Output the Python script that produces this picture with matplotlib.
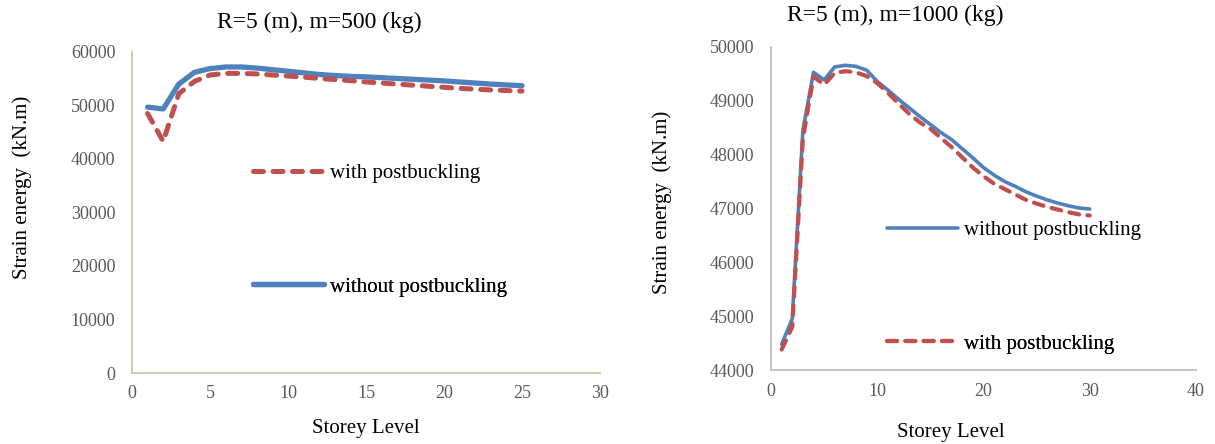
import matplotlib
matplotlib.use("Agg")
import matplotlib.pyplot as plt
from matplotlib.lines import Line2D

plt.rcParams['font.family'] = ['Liberation Serif', 'DejaVu Serif']

# Datos: R=5 (m), m=500 (kg)
pisos_500 = list(range(1, 26))
sin_pb_500 = [49700, 49350, 54000, 56200, 56900, 57200, 57200, 57000, 56700, 56400,
              56100, 55800, 55600, 55450, 55350, 55200, 55050, 54900, 54750, 54600,
              54400, 54200, 54000, 53850, 53700]
con_pb_500 = [48500, 43300, 52200, 54500, 55700, 56000, 56000, 55900, 55700, 55500,
              55300, 55050, 54850, 54650, 54400, 54200, 54000, 53800, 53600, 53400,
              53200, 53050, 52900, 52800, 52700]

# Datos: R=5 (m), m=1000 (kg)
pisos_1000 = list(range(1, 31))
sin_pb_1000 = [44480, 44950, 48450, 49530, 49390, 49630, 49660, 49640, 49570, 49360,
               49200, 49030, 48870, 48710, 48560, 48410, 48280, 48110, 47940, 47760,
               47620, 47500, 47410, 47310, 47230, 47160, 47100, 47050, 47010, 46990]
con_pb_1000 = [44380, 44800, 48300, 49450, 49300, 49520, 49550, 49530, 49460, 49330,
               49150, 48950, 48760, 48600, 48480, 48310, 48140, 47950, 47760, 47600,
               47460, 47360, 47260, 47160, 47090, 47030, 46980, 46930, 46890, 46870]

azul = '#4F81BD'
rojo = '#C0504D'
gris_txt = '#595959'

W, H = 1215, 444
fig = plt.figure(figsize=(W / 100, H / 100), dpi=100)

ax1 = fig.add_axes([132 / W, 1 - 373 / H, 468 / W, 321 / H])
ax2 = fig.add_axes([771 / W, 1 - 370 / H, 425 / W, 323 / H])


def estilo(ax, color_eje):
    for s in ['top', 'right']:
        ax.spines[s].set_visible(False)
    for s in ['left', 'bottom']:
        ax.spines[s].set_color(color_eje)
        ax.spines[s].set_linewidth(1.3)
    ax.tick_params(axis='both', length=0, labelsize=13, labelcolor=gris_txt)
    ax.tick_params(axis='y', pad=12)
    ax.tick_params(axis='x', pad=9)


def leyenda(ax, linea, texto, x, y):
    leg = ax.legend(handles=[linea], labels=[texto], loc='center left',
                    bbox_to_anchor=(x / W, 1 - y / H), bbox_transform=fig.transFigure,
                    frameon=False, borderpad=0, borderaxespad=0, fontsize=15,
                    handlelength=3.4, handletextpad=0.3)
    ax.add_artist(leg)


# Gráfico izquierdo
ax1.plot(pisos_500, sin_pb_500, color=azul, lw=3.8, solid_capstyle='round', solid_joinstyle='round')
ax1.plot(pisos_500, con_pb_500, color=rojo, lw=3.6, dashes=(2.0, 1.9),
         dash_capstyle='round', dash_joinstyle='round')
ax1.set_xlim(0, 30)
ax1.set_ylim(0, 60000)
ax1.set_xticks(range(0, 31, 5))
ax1.set_yticks(range(0, 60001, 10000))
estilo(ax1, '#CFC6A0')
ax1.set_xlabel('Storey Level', fontsize=15)
ax1.set_ylabel('Strain energy  (kN.m)', fontsize=15)
ax1.xaxis.set_label_coords(0.5, -0.143)
ax1.yaxis.set_label_coords(-0.213, 0.579)
fig.text(319 / W, 1 - 22 / H, 'R=5 (m), m=500 (kg)', fontsize=17, ha='center', va='center')

leyenda(ax1, Line2D([], [], color=rojo, lw=3.6, dashes=(2.0, 1.9), dash_capstyle='round'),
        'with postbuckling', 253, 173)
leyenda(ax1, Line2D([], [], color=azul, lw=3.8, solid_capstyle='round'),
        'without postbuckling', 253, 287)

# Gráfico derecho
ax2.plot(pisos_1000, sin_pb_1000, color=azul, lw=2.6, solid_capstyle='round', solid_joinstyle='round')
ax2.plot(pisos_1000, con_pb_1000, color=rojo, lw=3.0, dashes=(2.4, 2.0),
         dash_capstyle='round', dash_joinstyle='round')
ax2.set_xlim(0, 40)
ax2.set_ylim(44000, 50000)
ax2.set_xticks(range(0, 41, 10))
ax2.set_yticks(range(44000, 50001, 1000))
estilo(ax2, '#BFBFBF')
ax2.set_xlabel('Storey Level', fontsize=15)
ax2.set_ylabel('Strain energy  (kN.m)', fontsize=15)
ax2.xaxis.set_label_coords(0.424, -0.165)
ax2.yaxis.set_label_coords(-0.233, 0.52)
fig.text(895 / W, 1 - 15 / H, 'R=5 (m), m=1000 (kg)', fontsize=17, ha='center', va='center')

leyenda(ax2, Line2D([], [], color=azul, lw=2.6, solid_capstyle='round'),
        'without postbuckling', 887, 230)
leyenda(ax2, Line2D([], [], color=rojo, lw=3.0, dashes=(2.4, 2.0), dash_capstyle='round'),
        'with postbuckling', 887, 344)

fig.savefig('out.png', dpi=100)
plt.close(fig)
